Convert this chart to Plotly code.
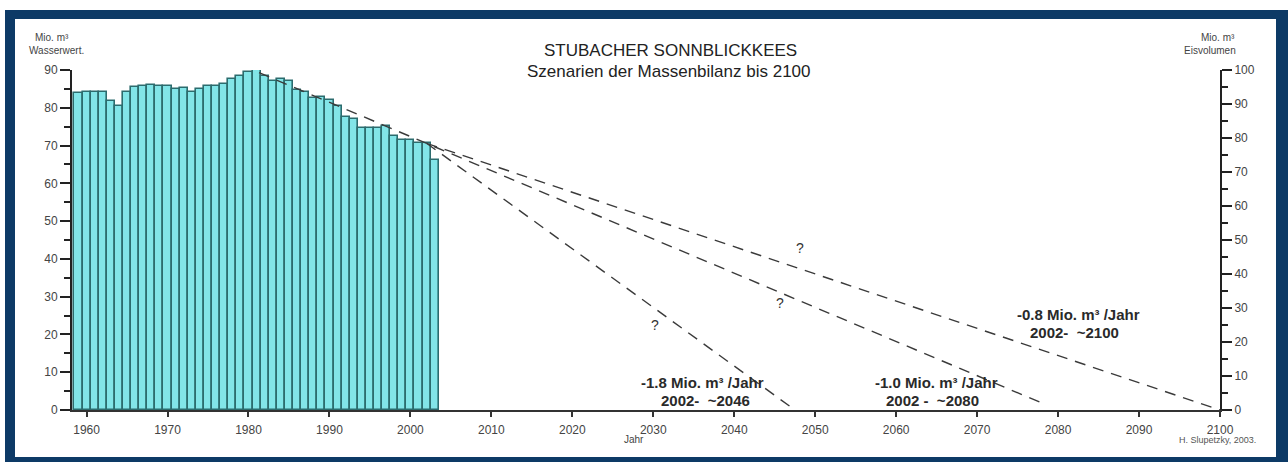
import plotly.graph_objects as go

# ---------------- data ----------------
years = list(range(1959, 2004))
water_value = [83.8, 84.1, 84.1, 84.3, 81.9, 80.6, 84.1, 85.5, 85.7, 86.0,
               85.7, 85.8, 84.9, 85.3, 84.3, 84.9, 85.8, 85.8, 86.3, 87.6,
               88.3, 89.5, 90.2, 88.3, 87.2, 87.7, 87.2, 84.8, 84.1, 82.6,
               82.8, 82.0, 80.4, 77.6, 77.0, 74.7, 74.7, 74.7, 75.3, 72.4,
               71.6, 71.6, 70.7, 70.8, 66.3]

scen_10_years = [1981.3, 2078.5]
scen_10_values = [89.3, 1.4]
scen_18_years = [2002.0, 2047.5]
scen_18_values = [70.6, 0.0]
scen_08_years = [2002.0, 2100.0]
scen_08_values = [70.6, 0.0]

q_years = [2048.1, 2045.7, 2030.2]
q_values = [42.9, 28.3, 22.5]

label_texts = ["-0.8 Mio. m³ /Jahr", "2002-  ~2100",
               "-1.8 Mio. m³ /Jahr", "2002-  ~2046",
               "-1.0 Mio. m³ /Jahr", "2002 -  ~2080"]
label_years = [2082.5, 2082.0, 2036.1, 2036.4, 2065.0, 2064.5]
label_values = [25.2, 20.4, 7.2, 2.4, 7.2, 2.4]

x_ticks = list(range(1960, 2101, 10))
y_left_ticks = list(range(0, 91, 10))
y_right_ticks = list(range(0, 101, 10))

# ---------------- geometry ----------------
W, H = 1288, 462
L, R, T, B = 72, 1220, 70, 410  # plot area in pixels


def px(xp):
    return (xp - L) / (R - L)


def py(yp):
    return (B - yp) / (B - T)


FONT = "Liberation Sans, Arial, sans-serif"
DASH = "11px,8px"

fig = go.Figure()

fig.add_trace(go.Bar(
    x=years, y=water_value, width=1.0,
    marker=dict(color="#82e5e8", line=dict(color="#2c6c6e", width=1.6)),
    hoverinfo="skip", showlegend=False,
))

for xs, ys in [(scen_10_years, scen_10_values),
               (scen_18_years, scen_18_values),
               (scen_08_years, scen_08_values)]:
    fig.add_trace(go.Scatter(
        x=xs, y=ys, mode="lines",
        line=dict(color="#3a3a3a", width=1.4, dash=DASH),
        hoverinfo="skip", showlegend=False,
    ))

# dummy trace to bind the right axis
fig.add_trace(go.Scatter(x=[None], y=[None], yaxis="y2", mode="lines",
                         showlegend=False, hoverinfo="skip"))

annotations = []
# title
annotations.append(dict(text="STUBACHER SONNBLICKKEES", x=px(670), y=py(39),
                        xref="paper", yref="paper", showarrow=False,
                        font=dict(family=FONT, size=17, color="#222")))
annotations.append(dict(text="Szenarien der Massenbilanz bis 2100", x=px(669), y=py(60),
                        xref="paper", yref="paper", showarrow=False,
                        font=dict(family=FONT, size=17, color="#222")))
# axis captions
small = dict(family=FONT, size=10, color="#444")
annotations.append(dict(text="Mio. m³", x=px(33), y=py(30), xref="paper", yref="paper",
                        showarrow=False, xanchor="left", font=small))
annotations.append(dict(text="Wasserwert.", x=px(27), y=py(43), xref="paper", yref="paper",
                        showarrow=False, xanchor="left", font=small))
annotations.append(dict(text="Mio. m³", x=px(1237), y=py(30), xref="paper", yref="paper",
                        showarrow=False, font=small))
annotations.append(dict(text="Eisvolumen", x=px(1238), y=py(43), xref="paper", yref="paper",
                        showarrow=False, font=small))
annotations.append(dict(text="Jahr", x=px(634), y=py(447), xref="paper", yref="paper",
                        showarrow=False, font=dict(family=FONT, size=10, color="#444")))
annotations.append(dict(text="H. Slupetzky, 2003.", x=px(1258), y=py(447), xref="paper",
                        yref="paper", showarrow=False, xanchor="right",
                        font=dict(family=FONT, size=9, color="#555")))
# question marks
for qx, qy in zip(q_years, q_values):
    annotations.append(dict(text="?", x=qx, y=qy, xref="x", yref="y", showarrow=False,
                            font=dict(family=FONT, size=14, color="#333")))
# scenario labels
for t, lx, ly in zip(label_texts, label_years, label_values):
    annotations.append(dict(text="<b>" + t + "</b>", x=lx, y=ly, xref="x", yref="y",
                            showarrow=False,
                            font=dict(family=FONT, size=15, color="#2a2a2a")))

# frame
FRAME = "#0d3a66"
shapes = []
for x0, y0, x1, y1 in [(5, 10, 15, 462), (5, 10, 1288, 19),
                       (1276, 10, 1288, 462), (5, 457, 1288, 462)]:
    shapes.append(dict(type="rect", xref="paper", yref="paper",
                       x0=px(x0), x1=px(x1), y0=py(y0), y1=py(y1),
                       fillcolor=FRAME, line=dict(width=0), layer="above"))

tickfont = dict(family=FONT, size=12, color="#444")

fig.update_layout(
    width=W, height=H, autosize=False,
    margin=dict(l=L, r=W - R, t=T, b=H - B, pad=0),
    paper_bgcolor="white", plot_bgcolor="white",
    bargap=0,
    annotations=annotations,
    shapes=shapes,
    xaxis=dict(range=[1958.2, 2100], tickvals=x_ticks, ticks="outside", ticklen=5,
               tickwidth=1.5, tickcolor="#333", showline=True, linecolor="#333",
               linewidth=2, showgrid=False, zeroline=False, tickfont=tickfont,
               ticklabelstandoff=3, fixedrange=True),
    yaxis=dict(range=[0, 90], tickvals=y_left_ticks, ticks="outside", ticklen=10,
               tickwidth=1.5, tickcolor="#222", showline=True, linecolor="#222",
               linewidth=2, showgrid=False, zeroline=False, tickfont=tickfont,
               minor=dict(tick0=0, dtick=5, ticks="outside", ticklen=6, tickwidth=1.5,
                          tickcolor="#222"),
               fixedrange=True),
    yaxis2=dict(range=[0, 100], tickvals=y_right_ticks, overlaying="y", side="right",
                anchor="x", ticks="outside", ticklen=10, tickwidth=1.5, tickcolor="#222",
                showline=True, linecolor="#222", linewidth=2, showgrid=False,
                zeroline=False, tickfont=tickfont,
                minor=dict(tick0=0, dtick=5, ticks="outside", ticklen=6, tickwidth=1.5,
                           tickcolor="#222"),
                fixedrange=True),
)

fig.write_html("out.html", config={"displayModeBar": False})
